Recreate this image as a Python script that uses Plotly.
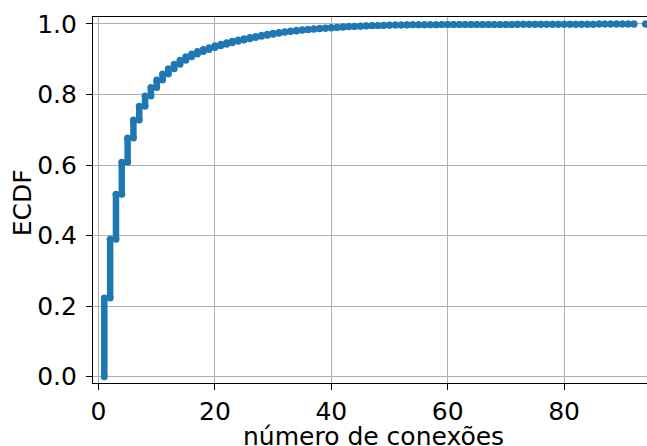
import numpy as np
import plotly.graph_objects as go

# number of connections (degree) and how many nodes have it
degree = list(range(1, 93)) + [94]
counts = [
    4460, 3340, 2540, 1820, 1380, 1020, 780, 580, 480, 420,
    340, 300, 260, 220, 200, 160, 140, 120, 100, 100,
    92, 86, 80, 75, 71, 68, 66, 63, 61, 58,
    45, 42, 38, 35, 32, 30, 28, 26, 23, 21,
    20, 18, 17, 15, 14, 14, 12, 11, 10, 9,
    5, 4, 4, 3, 2, 2, 2, 2, 1, 1,
    2, 1, 1, 1, 1, 1, 1, 1, 1, 1,
    1, 1, 1, 1, 1, 1, 1, 1, 1, 1,
    1, 1, 1, 1, 1, 1, 1, 1, 1, 1,
    1, 1,
    1,
]

x_ticks = [0, 20, 40, 60, 80]
y_ticks = [0.0, 0.2, 0.4, 0.6, 0.8, 1.0]
x_label = "número de conexões"
y_label = "ECDF"

cnt = np.array(counts, dtype=float)
N = cnt.sum()
cum = np.cumsum(cnt)
first_y = (cum - cnt) / N          # ecdf of first observation at this degree
last_y = (cum - 1) / N             # ecdf of last observation at this degree

xs, ys = [], []
for d, a, b in zip(degree, first_y, last_y):
    xs += [d, d, None]
    ys += [a, b, None]

BLUE = "#1f77b4"
fig = go.Figure()
fig.add_trace(go.Scatter(
    x=xs, y=ys, mode="lines+markers",
    line=dict(color=BLUE, width=6.5),
    marker=dict(color=BLUE, size=7, line=dict(width=0)),
    connectgaps=False, cliponaxis=False, showlegend=False,
    hoverinfo="skip",
))

FONT = "DejaVu Sans"
FS = 25
axis_common = dict(
    showline=True, linecolor="black", linewidth=1.1,
    showgrid=True, gridcolor="#b0b0b0", gridwidth=1,
    zeroline=False, automargin=False,
    ticks="outside", ticklen=6, tickwidth=1.1, tickcolor="black",
    tickfont=dict(family=FONT, size=FS, color="black"),
)

fig.update_layout(
    width=647, height=446,
    margin=dict(l=93, r=0, t=17, b=63),
    paper_bgcolor="white", plot_bgcolor="white",
    font=dict(family=FONT, color="black"),
    xaxis=dict(
        **axis_common, mirror=True,
        range=[-0.945, 94.24], tickvals=x_ticks,
        ticktext=[str(v) for v in x_ticks],
    ),
    yaxis=dict(
        **axis_common,
        range=[-0.0179, 1.0198], tickvals=y_ticks,
        ticktext=[f"{v:.1f}" for v in y_ticks],
        ticklabelstandoff=4,
    ),
    annotations=[
        dict(text=x_label, xref="paper", yref="paper", x=0.507, y=-0.147,
             xanchor="center", yanchor="middle", showarrow=False,
             font=dict(family=FONT, size=FS, color="black")),
        dict(text=y_label, xref="paper", yref="paper", x=-0.127, y=0.493,
             xanchor="center", yanchor="middle", showarrow=False, textangle=-90,
             font=dict(family=FONT, size=FS, color="black")),
    ],
)

fig.write_html(
    "out.html",
    config={"displayModeBar": False},
    post_script="document.body.style.margin='0';document.body.style.overflow='hidden';",
)
